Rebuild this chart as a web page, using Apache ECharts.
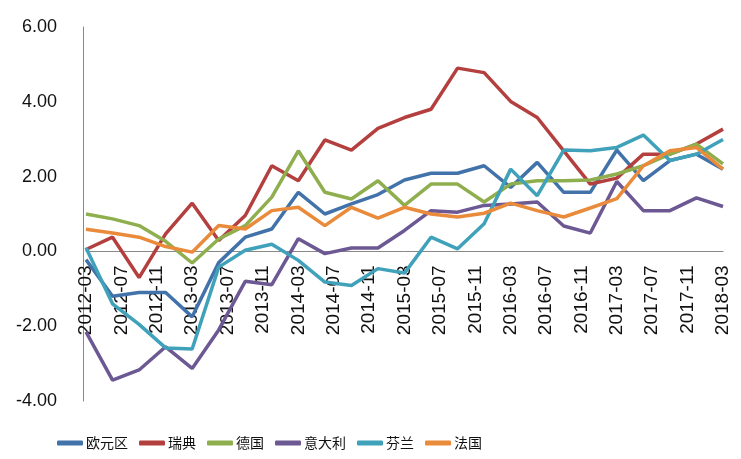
<!DOCTYPE html>
<html>
<head>
<meta charset="utf-8">
<script src="https://cdn.jsdelivr.net/npm/echarts@6/dist/echarts.min.js"></script>
<style>html,body{margin:0;padding:0;background:#fff;}#c{width:741px;height:459px;}</style>
</head>
<body>
<div id="c"></div>
<script>
// Monthly category axis, 2012-03 .. 2018-03; data are quarterly (every 3rd month)
const months = [];
for (let y = 2012, m = 3; y < 2018 || (y === 2018 && m <= 3); ) {
  months.push(y + '-' + (m < 10 ? '0' + m : m));
  m++; if (m > 12) { m = 1; y++; }
}
const seriesNames = ['欧元区', '瑞典', '德国', '意大利', '芬兰', '法国'];
const euroArea = [-0.22, -1.2, -1.1, -1.1, -1.75, -0.3, 0.38, 0.6, 1.58, 1.0, 1.27, 1.52, 1.91, 2.09, 2.09, 2.29, 1.71, 2.38, 1.58, 1.58, 2.71, 1.89, 2.43, 2.6, 2.2];
const sweden   = [0.05, 0.38, -0.7, 0.47, 1.29, 0.29, 0.96, 2.29, 1.89, 2.98, 2.71, 3.29, 3.58, 3.8, 4.9, 4.78, 4.01, 3.58, 2.69, 1.8, 1.96, 2.6, 2.6, 2.87, 3.27];
const germany  = [1.0, 0.87, 0.69, 0.27, -0.31, 0.33, 0.69, 1.45, 2.69, 1.58, 1.4, 1.89, 1.23, 1.8, 1.8, 1.32, 1.8, 1.89, 1.89, 1.91, 2.07, 2.29, 2.6, 2.87, 2.34];
const italy    = [-2.15, -3.44, -3.17, -2.55, -3.13, -2.1, -0.8, -0.89, 0.34, -0.06, 0.09, 0.09, 0.56, 1.09, 1.05, 1.23, 1.27, 1.32, 0.68, 0.49, 1.87, 1.09, 1.09, 1.43, 1.2];
const finland  = [0.1, -1.4, -1.95, -2.58, -2.61, -0.42, 0.03, 0.19, -0.24, -0.82, -0.91, -0.46, -0.58, 0.38, 0.07, 0.74, 2.2, 1.49, 2.71, 2.69, 2.78, 3.11, 2.43, 2.6, 2.99];
const france   = [0.59, 0.49, 0.38, 0.13, -0.02, 0.69, 0.6, 1.09, 1.18, 0.69, 1.18, 0.89, 1.18, 1.0, 0.92, 1.02, 1.29, 1.09, 0.92, 1.16, 1.41, 2.29, 2.69, 2.78, 2.2];
const colors = ['#4272AA', '#B3403F', '#8FAE4E', '#6C5893', '#3FA2BA', '#E98B3A'];

function toMonthly(q) {
  const arr = months.map(() => null);
  q.forEach((v, i) => { arr[i * 3] = v; });
  return arr;
}
const all = [euroArea, sweden, germany, italy, finland, france];
const yMin = -4, yMax = 6;
const gridTop = 27, gridBottom = 58, chartH = 459;
const plotH = chartH - gridTop - gridBottom;
// shift the category axis so it sits on the zero value line
const zeroShift = -plotH * (0 - yMin) / (yMax - yMin);

const chart = echarts.init(document.getElementById('c'));
chart.setOption({
  animation: false,
  color: colors,
  grid: { left: 86, right: 18, top: gridTop, bottom: gridBottom, containLabel: false, outerBoundsMode: 'none' },
  legend: {
    left: 52, top: 431,
    icon: 'roundRect', itemWidth: 26, itemHeight: 5, itemGap: 11,
    textStyle: { fontFamily: 'Noto Sans CJK SC', fontSize: 14, color: '#111', padding: [0, 0, 0, -2] },
    data: seriesNames
  },
  xAxis: {
    type: 'category', data: months, boundaryGap: false,
    offset: zeroShift,
    axisLine: { onZero: false, lineStyle: { color: '#888', width: 1 } },
    axisTick: { show: false },
    axisLabel: { interval: 3, rotate: 90, margin: 14, fontFamily: 'Liberation Sans', fontSize: 19, color: '#111' },
    splitLine: { show: false }
  },
  yAxis: {
    type: 'value', min: yMin, max: yMax, interval: 2, offset: 3,
    axisLine: { show: true, lineStyle: { color: '#888', width: 1 } },
    axisTick: { show: false },
    splitLine: { show: false },
    axisLabel: { margin: 26, fontFamily: 'Liberation Sans', fontSize: 18, color: '#111', formatter: v => v.toFixed(2) }
  },
  series: all.map((d, i) => ({
    name: seriesNames[i], type: 'line', data: toMonthly(d), connectNulls: true,
    symbol: 'none', lineStyle: { width: 3.5, color: colors[i] }, itemStyle: { color: colors[i] }
  }))
});
</script>
</body>
</html>
